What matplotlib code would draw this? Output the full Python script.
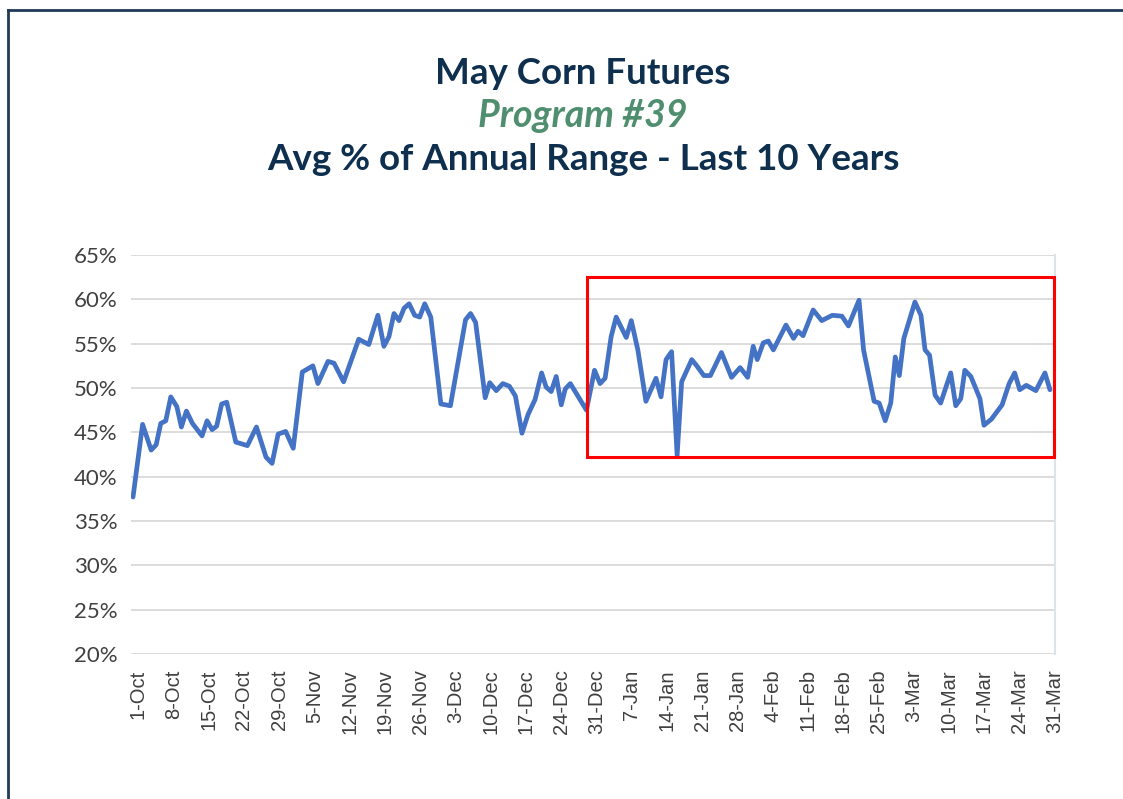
import matplotlib
matplotlib.use("Agg")
import matplotlib.pyplot as plt
from matplotlib.patches import Rectangle
from matplotlib.lines import Line2D
from matplotlib.ticker import FuncFormatter

# ---- data (day offset from 1-Oct, avg % of annual range) ----
days = [0, 1.9, 3.6, 4.6, 5.5, 6.5, 7.5, 8.7, 9.6, 10.6, 11.8, 13.7, 14.7, 15.7, 16.6,
        17.6, 18.6, 20.4, 22.7, 24.5, 26.4, 27.6, 28.8, 30.3, 31.8, 33.6, 35.7, 36.7,
        38.7, 39.9, 41.8, 44.8, 46.8, 48.6, 49.8, 50.8, 51.8, 52.8, 53.8, 54.8, 55.9,
        56.9, 57.9, 59.1, 61.1, 63.0, 66.0, 67.0, 68.0, 69.9, 70.8, 72.1, 73.4, 74.7,
        75.9, 77.2, 78.4, 79.8, 81.1, 82.0, 83.0, 84.0, 85.0, 85.8, 86.8, 90.0, 91.6,
        92.7, 93.7, 94.9, 95.9, 97.9, 98.9, 100.2, 101.8, 103.8, 104.8, 105.8, 106.9,
        108.0, 108.9, 110.9, 111.9, 113.3, 114.6, 116.8, 118.8, 120.5, 122.0, 123.1,
        123.9, 125.1, 126.1, 127.1, 129.6, 131.1, 132.0, 133.0, 135.0, 136.7, 138.8,
        140.7, 142.0, 144.1, 145.0, 147.1, 148.1, 149.3, 150.4, 151.3, 152.1, 153.0,
        155.2, 156.4, 157.2, 158.1, 159.2, 160.3, 162.3, 163.3, 164.3, 165.1, 166.3,
        168.1, 168.9, 170.4, 172.5, 173.9, 175.0, 176.0, 177.3, 179.2, 181.0, 182.0]
pct = [37.7, 45.9, 43.0, 43.6, 46.0, 46.3, 49.0, 47.9, 45.6, 47.4, 46.0, 44.6, 46.3, 45.3, 45.7,
       48.2, 48.4, 43.9, 43.5, 45.6, 42.2, 41.5, 44.8, 45.1, 43.2, 51.8, 52.5, 50.5,
       53.0, 52.8, 50.7, 55.5, 54.9, 58.2, 54.7, 55.8, 58.4, 57.6, 59.0, 59.5, 58.2,
       58.0, 59.5, 58.0, 48.2, 48.0, 57.7, 58.4, 57.4, 48.9, 50.6, 49.7, 50.5, 50.2,
       49.1, 44.9, 47.0, 48.7, 51.7, 50.1, 49.6, 51.3, 48.1, 49.9, 50.5, 47.5, 52.0,
       50.5, 51.1, 55.8, 58.0, 55.7, 57.6, 54.3, 48.5, 51.1, 49.0, 53.2, 54.1,
       42.4, 50.7, 53.2, 52.5, 51.4, 51.4, 54.0, 51.2, 52.3, 51.2, 54.7,
       53.2, 55.1, 55.3, 54.3, 57.1, 55.6, 56.4, 55.9, 58.8, 57.6, 58.2,
       58.1, 57.0, 59.9, 54.3, 48.5, 48.3, 46.3, 48.3, 53.5, 51.4, 55.6,
       59.7, 58.2, 54.3, 53.7, 49.2, 48.3, 51.7, 48.0, 48.8, 52.0, 51.3,
       48.8, 45.8, 46.5, 48.1, 50.5, 51.7, 49.8, 50.3, 49.7, 51.7, 49.8]

tick_labels = ["1-Oct", "8-Oct", "15-Oct", "22-Oct", "29-Oct", "5-Nov", "12-Nov", "19-Nov",
               "26-Nov", "3-Dec", "10-Dec", "17-Dec", "24-Dec", "31-Dec", "7-Jan", "14-Jan",
               "21-Jan", "28-Jan", "4-Feb", "11-Feb", "18-Feb", "25-Feb", "3-Mar", "10-Mar",
               "17-Mar", "24-Mar", "31-Mar"]
y_ticks = [20, 25, 30, 35, 40, 45, 50, 55, 60, 65]

# highlight box (days, pct)
box_x0, box_x1 = 90.2, 182.8
box_y0, box_y1 = 42.2, 62.5

W, H = 1123, 799
fig = plt.figure(figsize=(W / 100, H / 100), dpi=100)
fig.patch.set_facecolor("white")

ax = fig.add_axes([131 / W, 145 / H, (1055 - 131) / W, 399 / H])
ax.plot(days, pct, color="#4472C4", lw=3.4, solid_joinstyle="round",
        solid_capstyle="round", zorder=3)

ax.set_ylim(20, 65)
ax.set_xlim(-0.4, 182.8)
ax.set_yticks(y_ticks)
ax.yaxis.set_major_formatter(FuncFormatter(lambda v, p: f"{int(v)}%"))
ax.set_xticks([7 * i + 1.0 for i in range(len(tick_labels))])
ax.set_xticklabels(tick_labels, rotation=90, fontfamily="Liberation Sans",
                   fontsize=14.5, color="#404040")
for lab in ax.get_yticklabels():
    lab.set_fontfamily("Lato")
    lab.set_fontsize(16)
    lab.set_color("#404040")
ax.tick_params(axis="both", length=0)
ax.tick_params(axis="y", pad=9.5)
ax.tick_params(axis="x", pad=11)
ax.grid(axis="y", color="#D9D9D9", lw=1.3, zorder=0)
for s in ["left", "top", "bottom"]:
    ax.spines[s].set_visible(False)
ax.spines["right"].set_color("#DCE3EA")
ax.spines["right"].set_linewidth(1.5)

rect = Rectangle((box_x0, box_y0), box_x1 - box_x0, box_y1 - box_y0, fill=False,
                 edgecolor="#FF0000", lw=2.2, clip_on=False, zorder=4)
ax.add_patch(rect)

# titles
cx = 583 / W
navy = "#0E2F4E"
fig.text(cx, 1 - 84 / H, "May Corn Futures", ha="center", va="baseline",
         fontfamily="Lato", fontweight="bold", fontsize=26.5, color=navy)
fig.text(cx, 1 - 127 / H, "Program #39", ha="center", va="baseline",
         fontfamily="Lato", fontweight="bold", fontstyle="italic", fontsize=27,
         color="#4F8F6F")
fig.text(cx, 1 - 170 / H, "Avg % of Annual Range - Last 10 Years", ha="center",
         va="baseline", fontfamily="Lato", fontweight="bold", fontsize=26.5, color=navy)

# outer frame (top and left edges)
fig.add_artist(Line2D([8 / W, 1], [1 - 10 / H, 1 - 10 / H], color="#1F3A56", lw=2.0))
fig.add_artist(Line2D([8 / W, 8 / W], [0, 1 - 10 / H], color="#1F3A56", lw=2.0))

fig.savefig("out.png", dpi=100)
